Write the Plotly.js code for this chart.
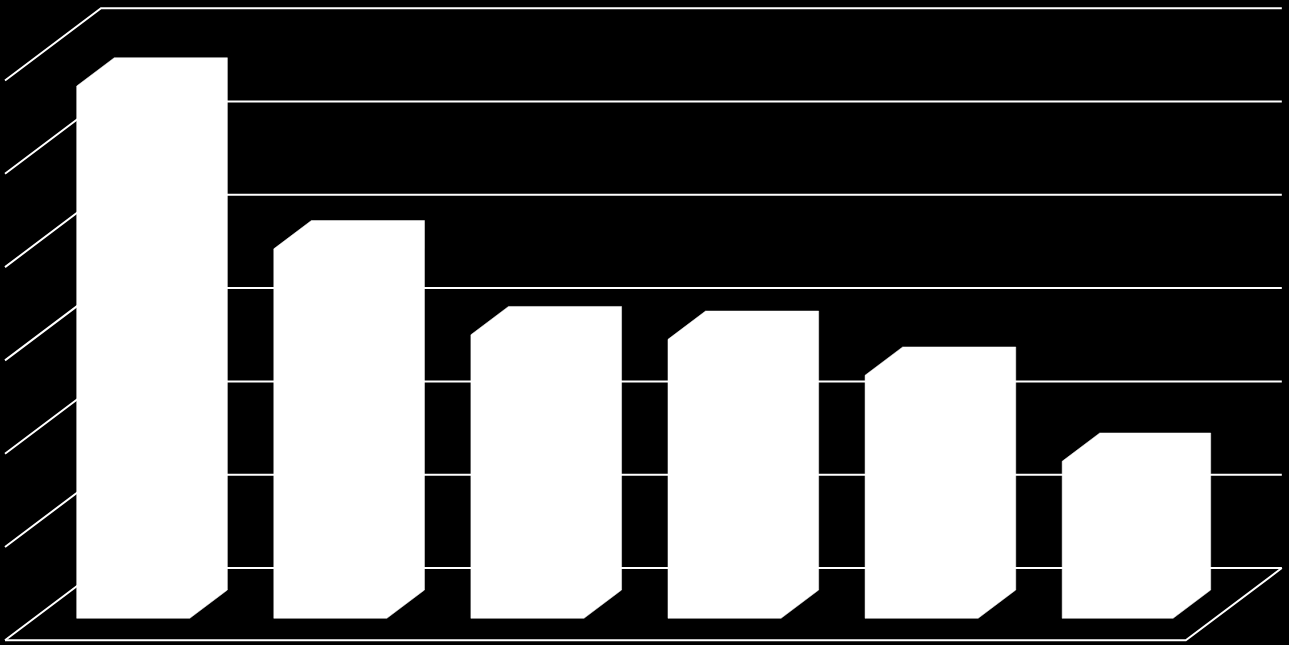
<!DOCTYPE html>
<html>
<head>
<meta charset="utf-8">
<script src="https://cdn.plot.ly/plotly-3.0.1.min.js"></script>
<style>html,body{margin:0;padding:0;background:#000;overflow:hidden}#c{width:1289px;height:645px}</style>
</head>
<body>
<div id="c"></div>
<script>
// Data (units = gridline intervals)
const categories = [1, 2, 3, 4, 5, 6];
const values = [5.705, 3.960, 3.039, 2.990, 2.605, 1.683];
const gridLevels = [0, 1, 2, 3, 4, 5, 6];

// Oblique projection of the 3D box chart
const W = 1289, H = 645;
const slotPx = 196.8, unitPx = 93.3, originX = 5, originY = 640.3;
const depthX = 96 / slotPx, depthY = 72.3 / unitPx;
const nSlots = categories.length;
const barFront = 0.304, barBack = 0.6957;
const barPitch = 1.0015, barOffset = 0.216;
const barSpan = [0.5746, 0.5746, 0.5746, 0.5746, 0.5746, 0.5636];

const px = (slot, depth) => slot + depth * depthX;
const py = (val, depth) => val + depth * depthY;

const traces = [];
const line = {color: '#ffffff', width: 2};

// Walls and floor
gridLevels.forEach(v => {
  traces.push({
    type: 'scatter', mode: 'lines', hoverinfo: 'skip', line,
    x: [px(0, 0), px(0, 1), px(nSlots, 1)],
    y: [py(v, 0), py(v, 1), py(v, 1)]
  });
});
traces.push({
  type: 'scatter', mode: 'lines', hoverinfo: 'skip', line,
  x: [px(0, 0), px(nSlots, 0), px(nSlots, 1)],
  y: [py(0, 0), py(0, 0), py(0, 1)]
});

// Bars: silhouette of each box, front face + top + side, all white
categories.forEach((c, i) => {
  const l = i * barPitch + barOffset, r = l + barSpan[i], v = values[i];
  traces.push({
    type: 'scatter', mode: 'lines', fill: 'toself', fillcolor: '#ffffff',
    line: {color: '#ffffff', width: 0.5}, hoverinfo: 'skip',
    x: [px(l, barFront), px(r, barFront), px(r, barBack), px(r, barBack), px(l, barBack), px(l, barFront), px(l, barFront)],
    y: [py(0, barFront), py(0, barFront), py(0, barBack), py(v, barBack), py(v, barBack), py(v, barFront), py(0, barFront)]
  });
});

const layout = {
  width: W, height: H,
  margin: {l: 0, r: 0, t: 0, b: 0},
  paper_bgcolor: '#000000', plot_bgcolor: '#000000',
  showlegend: false,
  xaxis: {visible: false, fixedrange: true, range: [(0 - originX) / slotPx, (W - originX) / slotPx]},
  yaxis: {visible: false, fixedrange: true, range: [(originY - H) / unitPx, originY / unitPx]}
};
Plotly.newPlot('c', traces, layout, {displayModeBar: false, staticPlot: true});
</script>
</body>
</html>
